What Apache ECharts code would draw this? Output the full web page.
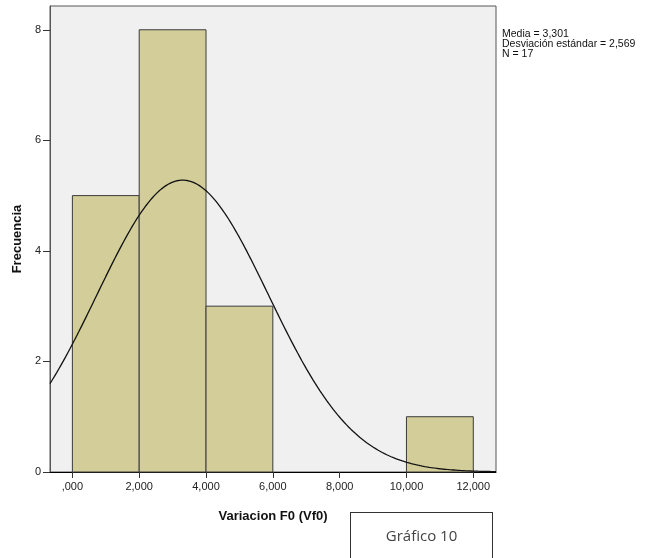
<!DOCTYPE html>
<html>
<head>
<meta charset="utf-8">
<script src="https://cdn.jsdelivr.net/npm/echarts@6/dist/echarts.min.js"></script>
<style>
  html, body { margin: 0; padding: 0; background: #fff; }
  #chart { width: 650px; height: 558px; }
  #note {
    position: absolute; left: 350px; top: 512px; width: 143px; height: 46px;
    border: 1px solid #333; border-bottom: none; box-sizing: border-box;
    font-family: "Open Sans", "Liberation Sans", sans-serif; font-size: 15px; color: #444;
    text-align: center; line-height: 44px;
  }
</style>
</head>
<body>
<div id="chart"></div>
<div id="note">Gráfico 10</div>
<script>
// Histogram bins of Variacion F0 (lower edge, upper edge, count)
const binLower = [0, 2, 4, 6, 8, 10];
const binUpper = [2, 4, 6, 8, 10, 12];
const binCount = [5, 8, 3, 0, 0, 1];

// Summary statistics shown beside the plot
const statMean = 3.301;
const statSd = 2.569;
const statN = 17;

const xTicks = [0, 2, 4, 6, 8, 10, 12];
const yTicks = [0, 2, 4, 6, 8];

const xMin = -0.67, xMax = 12.68;
const yMax = 8.43;
const binWidth = 2;

// Fitted normal curve, scaled to frequency per bin
const curve = [];
const steps = 200;
for (let i = 0; i <= steps; i++) {
  const x = xMin + (xMax - xMin) * i / steps;
  const z = (x - statMean) / statSd;
  const y = statN * binWidth / (statSd * Math.sqrt(2 * Math.PI)) * Math.exp(-0.5 * z * z);
  curve.push([x, y]);
}

const fmt = v => {
  const s = v.toFixed(3).replace('.', ',');
  return s.startsWith('0,') ? s.slice(1) : s;
};

const bins = binLower.map((lo, i) => [lo, binUpper[i], binCount[i]]).filter(b => b[2] > 0);

const chart = echarts.init(document.getElementById('chart'));
const font = '"Liberation Sans", Arial, sans-serif';

chart.setOption({
  animation: false,
  grid: {
    left: 50, right: 154, top: 6, bottom: 86,
    show: true, backgroundColor: '#F0F0F0', borderColor: '#555', borderWidth: 1
  },
  xAxis: {
    type: 'value', min: xMin, max: xMax,
    splitLine: { show: false },
    axisLine: { show: true, onZero: false, lineStyle: { color: '#000', width: 1 } },
    axisTick: { show: true, customValues: xTicks, length: 6, lineStyle: { color: '#333' } },
    axisLabel: {
      customValues: xTicks, formatter: fmt, margin: 9,
      color: '#222', fontFamily: font, fontSize: 11
    },
    name: 'Variacion F0 (Vf0)', nameLocation: 'middle', nameGap: 38,
    nameTextStyle: { fontFamily: font, fontWeight: 'bold', fontSize: 13, color: '#111' }
  },
  yAxis: {
    type: 'value', min: 0, max: yMax,
    splitLine: { show: false },
    axisLine: { show: true, onZero: false, lineStyle: { color: '#555', width: 1 } },
    axisTick: { show: true, customValues: yTicks, length: 7, lineStyle: { color: '#333' } },
    axisLabel: {
      customValues: yTicks, margin: 9,
      color: '#222', fontFamily: font, fontSize: 11
    },
    name: 'Frecuencia', nameLocation: 'middle', nameGap: 26,
    nameTextStyle: { fontFamily: font, fontWeight: 'bold', fontSize: 13, color: '#111' }
  },
  graphic: [{
    type: 'text', left: 502, top: 29,
    style: {
      text: 'Media = ' + fmt(statMean) + '\nDesviación estándar = ' + fmt(statSd) + '\nN = ' + statN,
      font: '10.5px ' + font, fill: '#111', lineHeight: 10
    }
  }],
  series: [
    {
      type: 'custom',
      data: bins,
      renderItem: (params, api) => {
        const p0 = api.coord([api.value(0), api.value(2)]);
        const p1 = api.coord([api.value(1), 0]);
        return {
          type: 'rect',
          shape: { x: p0[0], y: p0[1], width: p1[0] - p0[0], height: p1[1] - p0[1] },
          style: { fill: '#D3CE99', stroke: '#3a3a3a', lineWidth: 1 }
        };
      },
      z: 2
    },
    {
      type: 'line', data: curve, showSymbol: false, smooth: false,
      lineStyle: { color: '#111', width: 1.3 }, z: 3
    }
  ]
});
</script>
</body>
</html>
